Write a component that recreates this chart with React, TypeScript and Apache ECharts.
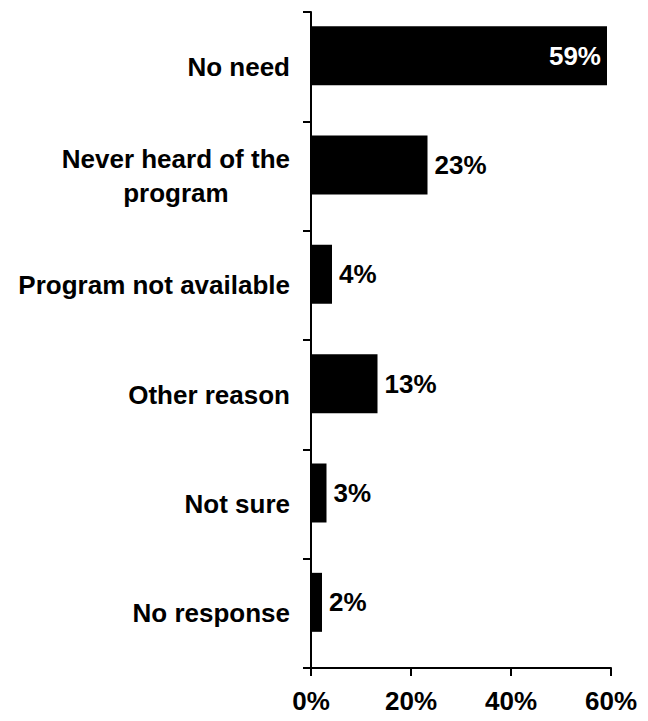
import React, { useEffect, useRef } from "react";
import * as echarts from "echarts";

const categories: string[] = [
  "No need",
  "Never heard of the\nprogram",
  "Program not available",
  "Other reason",
  "Not sure",
  "No response",
];
const shares: number[] = [59.2, 23.3, 4.2, 13.3, 3.1, 2.2];
const xTicks: number[] = [0, 20, 40, 60];

const FONT = "'Liberation Sans', Arial, Helvetica, sans-serif";

export default function App() {
  const ref = useRef<HTMLDivElement>(null);
  useEffect(() => {
    document.body.style.margin = "0";
    if (!ref.current) return;
    const chart = echarts.init(ref.current, null, { renderer: "svg" });
    const labelStyle = {
      fontFamily: FONT,
      fontSize: 26,
      fontWeight: "bold" as const,
      color: "#000",
    };
    chart.setOption({
      animation: false,
      backgroundColor: "#fff",
      grid: { left: 311, right: 37, top: 12, bottom: 53, outerBoundsMode: "none" },
      xAxis: {
        type: "value",
        min: xTicks[0],
        max: xTicks[xTicks.length - 1],
        interval: 20,
        axisLine: { show: true, lineStyle: { color: "#000", width: 2 } },
        axisTick: { show: true, length: 8, lineStyle: { color: "#000", width: 2 } },
        splitLine: { show: false },
        axisLabel: {
          ...labelStyle,
          margin: 20,
          formatter: (v: number) => `${v}%`,
        },
      },
      yAxis: {
        type: "category",
        inverse: true,
        data: categories,
        axisLine: { show: true, lineStyle: { color: "#000", width: 2 } },
        axisTick: { show: true, length: 8, lineStyle: { color: "#000", width: 2 } },
        axisLabel: {
          ...labelStyle,
          margin: 21,
          lineHeight: 34,
          align: "right",
          formatter: (v: string) =>
            v.includes("\n")
              ? v
                  .split("\n")
                  .map((l) => `{c|${l}}`)
                  .join("\n")
              : v,
          rich: {
            c: { ...labelStyle, lineHeight: 34, align: "center" },
          },
        },
      },
      series: [
        {
          type: "bar",
          barWidth: 59,
          barGap: "-62.7%",
          itemStyle: { color: "#000" },
          label: {
            show: true,
            position: "right",
            distance: 7,
            ...labelStyle,
            formatter: (p: any) => `${Math.round(p.value)}%`,
          },
          data: shares.map((v) =>
            v > 40
              ? { value: v, label: { position: "insideRight", color: "#fff", distance: 6 } }
              : v
          ),
        },
        {
          type: "bar",
          barWidth: 59,
          silent: true,
          itemStyle: { color: "transparent" },
          data: categories.map(() => "-"),
        },
      ],
    });
    return () => chart.dispose();
  }, []);
  return (
    <div
      ref={ref}
      style={{ position: "absolute", left: 0, top: 0, width: 648, height: 721 }}
    />
  );
}
